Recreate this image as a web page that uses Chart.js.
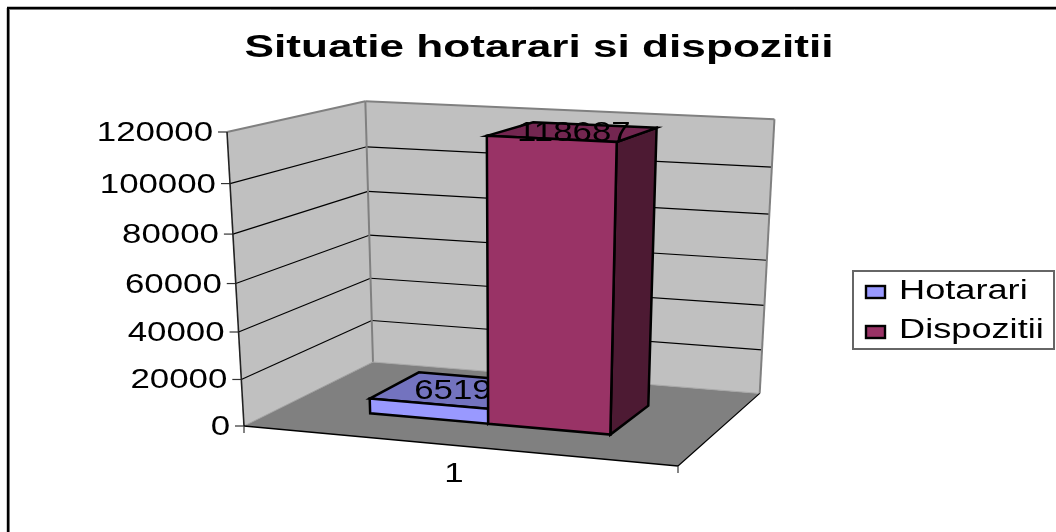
<!DOCTYPE html>
<html>
<head>
<meta charset="utf-8">
<style>
  html, body { margin: 0; padding: 0; background: #fff; overflow: hidden; }
  canvas { display: block; }
</style>
<script src="https://cdn.jsdelivr.net/npm/chart.js@4"></script>
</head>
<body>
<canvas id="chart" width="1056" height="532"></canvas>
<script>
const chartTitle = "Situatie hotarari si dispozitii";
const categories = ["1"];
const seriesNames = ["Hotarari", "Dispozitii"];
const hotarari = [6519];
const dispozitii = [118687];
const yTickValues = [0, 20000, 40000, 60000, 80000, 100000, 120000];

// Corners of the 3D box: front-left-bottom, and one step along each axis
const P0 = { x: 244, y: 426 };
const PU = { x: 678, y: 466 };
const PV = { x: 227, y: 132 };
const PW = { x: 373, y: 362 };
const WU = 0.94, WV = 0.94, WW = 1.135;
const BAR_FRONT = 0.29, BAR_BACK = 0.7;
const TEXT_SIZE = 27, TEXT_STRETCH = 1.29;

const colors = {
  wall: "#C0C0C0",
  floor: "#808080",
  edge: "#808080",
  hotarari: { front: "#9999FF", top: "#7373BF", side: "#4D4D80" },
  dispozitii: { front: "#993366", top: "#732650", side: "#4D1A33" },
};

// Perspective projection of a point inside the box (all in 0..1)
function project(u, v, w) {
  const den = 1 + (WU - 1) * u + (WV - 1) * v + (WW - 1) * w;
  return {
    x: (P0.x + u * (WU * PU.x - P0.x) + v * (WV * PV.x - P0.x) + w * (WW * PW.x - P0.x)) / den,
    y: (P0.y + u * (WU * PU.y - P0.y) + v * (WV * PV.y - P0.y) + w * (WW * PW.y - P0.y)) / den,
  };
}

function poly(ctx, pts, fill, stroke, lineWidth) {
  ctx.beginPath();
  pts.forEach((p, i) => (i ? ctx.lineTo(p.x, p.y) : ctx.moveTo(p.x, p.y)));
  ctx.closePath();
  if (fill) { ctx.fillStyle = fill; ctx.fill(); }
  if (stroke) { ctx.strokeStyle = stroke; ctx.lineWidth = lineWidth; ctx.stroke(); }
}

function line(ctx, a, b, color, lineWidth) {
  ctx.beginPath();
  ctx.moveTo(a.x, a.y);
  ctx.lineTo(b.x, b.y);
  ctx.strokeStyle = color;
  ctx.lineWidth = lineWidth;
  ctx.stroke();
}

// The reference picture is stretched sideways, so the text is too
function wideText(ctx, str, x, y, size, align, bold, stretch) {
  ctx.save();
  ctx.translate(x, y);
  ctx.scale(stretch || TEXT_STRETCH, 1);
  ctx.font = `${bold ? "bold " : ""}${size}px "Liberation Sans", Arial, sans-serif`;
  ctx.textAlign = align;
  ctx.textBaseline = "alphabetic";
  ctx.fillStyle = "#000";
  ctx.fillText(str, 0, 0);
  ctx.restore();
}

const box3d = {
  id: "box3d",
  beforeDraw(chart) {
    const ctx = chart.ctx;
    const y = chart.scales.y;
    const area = chart.chartArea;
    const vOf = (val) => (area.bottom - y.getPixelForValue(val)) / area.height;

    ctx.save();
    ctx.lineCap = "butt";

    // outer frame, only top and left fall inside the picture
    line(ctx, { x: 8, y: 532 }, { x: 8, y: 8 }, "#000", 2.4);
    line(ctx, { x: 7, y: 8 }, { x: 1056, y: 8 }, "#000", 2.4);
    line(ctx, { x: 9.5, y: 532 }, { x: 9.5, y: 9.5 }, "#777", 1);
    line(ctx, { x: 9, y: 9.5 }, { x: 1056, y: 9.5 }, "#777", 1);

    wideText(ctx, chartTitle, 539, 57, 32, "center", true, 1.38);

    // walls and floor
    poly(ctx, [project(0, 0, 0), project(0, 1, 0), project(0, 1, 1), project(0, 0, 1)], colors.wall);
    poly(ctx, [project(0, 0, 1), project(0, 1, 1), project(1, 1, 1), project(1, 0, 1)], colors.wall);
    poly(ctx, [project(0, 0, 0), project(0, 0, 1), project(1, 0, 1), project(1, 0, 0)], colors.floor);

    // gridlines and y ticks
    y.ticks.forEach((tick) => {
      const v = vOf(tick.value);
      const a = project(0, v, 0), b = project(0, v, 1), c = project(1, v, 1);
      if (tick.value > 0 && tick.value < y.max) {
        line(ctx, a, b, "#000", 1.2);
        line(ctx, b, c, "#000", 1.2);
      }
      line(ctx, { x: a.x - 9, y: a.y }, a, "#333", 1.2);
      wideText(ctx, String(tick.value), a.x - 14, a.y + 9, TEXT_SIZE, "right");
    });

    // wall edges
    line(ctx, project(0, 1, 0), project(0, 1, 1), colors.edge, 2);
    line(ctx, project(0, 1, 1), project(1, 1, 1), colors.edge, 2);
    line(ctx, project(0, 0, 1), project(0, 1, 1), colors.edge, 2);
    line(ctx, project(1, 0, 1), project(1, 1, 1), colors.edge, 2);
    line(ctx, project(0, 0, 1), project(0, 0, 0), "#A0A0A0", 1);
    line(ctx, project(0, 0, 1), project(1, 0, 1), "#A8A8A8", 1);

    // axis lines in front
    line(ctx, project(0, 0, 0), project(0, 1, 0), "#222", 1.6);
    line(ctx, project(0, 0, 0), project(1, 0, 0), "#000", 1.6);
    line(ctx, project(1, 0, 0), project(1, 0, 1), "#000", 1.2);

    // x ticks and the category label
    const fl = project(0, 0, 0), fr = project(1, 0, 0);
    line(ctx, fl, { x: fl.x, y: fl.y + 7 }, "#333", 1.2);
    line(ctx, fr, { x: fr.x, y: fr.y + 7 }, "#333", 1.2);
    wideText(ctx, categories[0], 454, 482, TEXT_SIZE, "center");

    ctx.restore();
  },
  // the flat bars are replaced by the boxes below
  beforeDatasetDraw() {
    return false;
  },
  afterDatasetsDraw(chart) {
    const ctx = chart.ctx;
    const area = chart.chartArea;
    const shades = [colors.hotarari, colors.dispozitii];

    chart.data.datasets.forEach((ds, i) => {
      const el = chart.getDatasetMeta(i).data[0];
      const u0 = (el.x - el.width / 2 - area.left) / area.width;
      const u1 = (el.x + el.width / 2 - area.left) / area.width;
      const v = (area.bottom - el.y) / area.height;
      const shade = shades[i];
      ctx.save();
      ctx.lineJoin = "miter";
      poly(ctx, [project(u1, 0, BAR_FRONT), project(u1, v, BAR_FRONT), project(u1, v, BAR_BACK), project(u1, 0, BAR_BACK)], shade.side, "#000", 2.5);
      poly(ctx, [project(u0, v, BAR_FRONT), project(u0, v, BAR_BACK), project(u1, v, BAR_BACK), project(u1, v, BAR_FRONT)], shade.top, "#000", 2.5);
      poly(ctx, [project(u0, 0, BAR_FRONT), project(u0, v, BAR_FRONT), project(u1, v, BAR_FRONT), project(u1, 0, BAR_FRONT)], shade.front, "#000", 2.5);
      const c = project((u0 + u1) / 2, v, 0.5);
      wideText(ctx, String(ds.data[0]), c.x, c.y + 9, TEXT_SIZE, "center");
      ctx.restore();
    });

    // legend
    ctx.save();
    ctx.strokeStyle = "#666";
    ctx.lineWidth = 2;
    ctx.strokeRect(853, 271, 201, 78);
    seriesNames.forEach((name, i) => {
      const top = 286 + i * 40;
      ctx.fillStyle = chart.data.datasets[i].backgroundColor;
      ctx.strokeStyle = "#000";
      ctx.lineWidth = 2.4;
      ctx.fillRect(866, top, 19, 12);
      ctx.strokeRect(866, top, 19, 12);
      wideText(ctx, name, 899, 299 + i * 39, TEXT_SIZE, "left", false, 1.34);
    });
    ctx.restore();
  },
};

new Chart(document.getElementById("chart"), {
  type: "bar",
  data: {
    labels: categories,
    datasets: [
      { label: seriesNames[0], data: hotarari, backgroundColor: colors.hotarari.front, categoryPercentage: 0.5734, barPercentage: 1 },
      { label: seriesNames[1], data: dispozitii, backgroundColor: colors.dispozitii.front, categoryPercentage: 0.5734, barPercentage: 1 },
    ],
  },
  options: {
    responsive: false,
    animation: false,
    layout: { padding: { left: 244, right: 378, top: 132, bottom: 105 } },
    plugins: { legend: { display: false }, title: { display: false }, tooltip: { enabled: false } },
    scales: {
      x: { display: false },
      y: {
        display: false,
        min: yTickValues[0],
        max: yTickValues[yTickValues.length - 1],
        ticks: { stepSize: yTickValues[1] - yTickValues[0] },
      },
    },
  },
  plugins: [box3d],
});
</script>
</body>
</html>
